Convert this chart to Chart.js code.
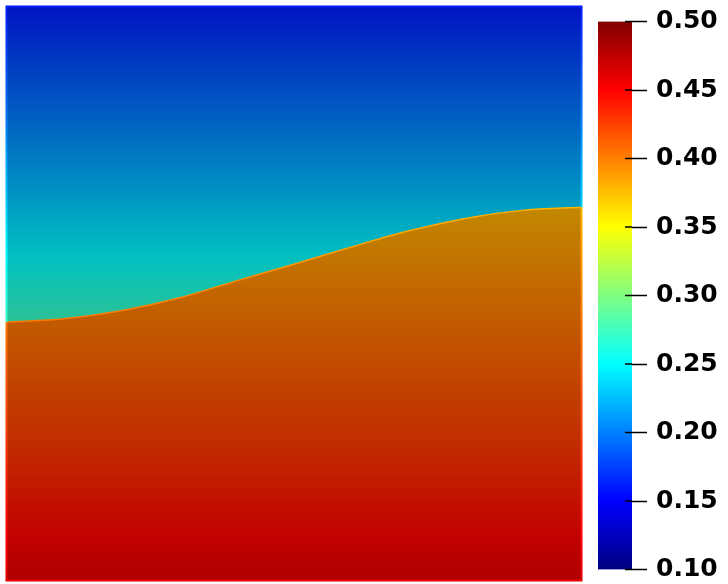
<!DOCTYPE html>
<html>
<head>
<meta charset="utf-8">
<script src="https://cdn.jsdelivr.net/npm/chart.js@4.4.1/dist/chart.umd.min.js"></script>
<style>
  body { margin: 0; background: #fff; }
  canvas { position: absolute; left: 0; top: 0; }
</style>
</head>
<body>
<canvas id="campo" width="728" height="584"></canvas>
<canvas id="barra" width="728" height="584"></canvas>
<script>
// interface between the two phases (domain 0..1 in x and y)
const interfaceX = [0, 0.1, 0.2, 0.3, 0.4, 0.5, 0.6, 0.7, 0.8, 0.9, 1.0];
const interfaceY = [0.450, 0.456, 0.470, 0.492, 0.522, 0.551, 0.581, 0.609, 0.631, 0.645, 0.650];

// field value read at some heights, upper phase and lower phase
const heights = [1.0, 0.75, 0.5, 0.25, 0.0];
const upperValues = [0.160, 0.210, 0.263, 0.313, 0.363];
const lowerValues = [0.340, 0.368, 0.398, 0.426, 0.460];

// colour map (jet) and colour bar ticks
const cmapValues = [0.10, 0.15, 0.20, 0.25, 0.30, 0.35, 0.40, 0.45, 0.50];
const cmapColors = ['#000080', '#0000ff', '#0080ff', '#00ffff', '#80ff80', '#ffff00', '#ff8000', '#ff0000', '#800000'];
const tickMin = 0.10, tickMax = 0.50, tickStep = 0.05;

const shade = 0.76;

function hexRgb(h) {
  return [parseInt(h.slice(1, 3), 16), parseInt(h.slice(3, 5), 16), parseInt(h.slice(5, 7), 16)];
}
function jet(v, k) {
  k = k || 1;
  if (v <= cmapValues[0]) v = cmapValues[0];
  if (v >= cmapValues[cmapValues.length - 1]) v = cmapValues[cmapValues.length - 1];
  let i = 0;
  while (i < cmapValues.length - 2 && v > cmapValues[i + 1]) i++;
  const t = (v - cmapValues[i]) / (cmapValues[i + 1] - cmapValues[i]);
  const a = hexRgb(cmapColors[i]), b = hexRgb(cmapColors[i + 1]);
  const c = a.map((x, j) => Math.round((x + (b[j] - x) * t) * k));
  return 'rgb(' + c[0] + ',' + c[1] + ',' + c[2] + ')';
}
function valueAt(h, vals) {
  for (let i = 0; i < heights.length - 1; i++) {
    if (h <= heights[i] && h >= heights[i + 1]) {
      const t = (heights[i] - h) / (heights[i] - heights[i + 1]);
      return vals[i] + (vals[i + 1] - vals[i]) * t;
    }
  }
  return vals[vals.length - 1];
}
// vertical gradient over the whole domain
function fieldGradient(chart, vals, k) {
  const y = chart.scales.y;
  const top = y.getPixelForValue(1), bot = y.getPixelForValue(0);
  const g = chart.ctx.createLinearGradient(0, top, 0, bot);
  const n = 40;
  for (let s = 0; s <= n; s++) {
    g.addColorStop(s / n, jet(valueAt(1 - s / n, vals), k));
  }
  return g;
}

const pontos = interfaceX.map((x, i) => ({ x: x, y: interfaceY[i] }));

// bright outline of the domain
const contorno = {
  id: 'contorno',
  afterDatasetsDraw(chart) {
    const ctx = chart.ctx, a = chart.chartArea;
    const pts = chart.getDatasetMeta(0).data;
    function regiao(up) {
      ctx.beginPath();
      ctx.moveTo(pts[0].x, pts[0].y);
      for (let i = 1; i < pts.length; i++) ctx.lineTo(pts[i].x, pts[i].y);
      const yy = up ? a.top - 2 : a.bottom + 2;
      ctx.lineTo(a.right + 2, pts[pts.length - 1].y);
      ctx.lineTo(a.right + 2, yy);
      ctx.lineTo(a.left - 2, yy);
      ctx.lineTo(a.left - 2, pts[0].y);
      ctx.closePath();
    }
    [[true, upperValues], [false, lowerValues]].forEach(([up, vals]) => {
      ctx.save();
      regiao(up);
      ctx.clip();
      ctx.strokeStyle = fieldGradient(chart, vals, 1);
      ctx.lineWidth = 2;
      ctx.strokeRect(a.left + 0.5, a.top + 0.5, a.right - a.left - 1, a.bottom - a.top - 1);
      ctx.restore();
    });
  }
};

new Chart(document.getElementById('campo'), {
  type: 'line',
  data: {
    datasets: [{
      data: pontos,
      fill: 'start',
      backgroundColor: c => c.chart.chartArea ? fieldGradient(c.chart, lowerValues, shade) : '#c00',
      borderColor: c => c.chart.chartArea ? fieldGradient(c.chart, lowerValues, 1) : '#f80',
      borderWidth: 1.5,
      pointRadius: 0,
      cubicInterpolationMode: 'monotone'
    }, {
      data: pontos,
      fill: 'end',
      backgroundColor: c => c.chart.chartArea ? fieldGradient(c.chart, upperValues, shade) : '#06c',
      borderWidth: 0,
      pointRadius: 0,
      cubicInterpolationMode: 'monotone'
    }]
  },
  options: {
    responsive: false,
    animation: false,
    layout: { padding: { left: 6, top: 6, right: 146, bottom: 3 } },
    plugins: { legend: { display: false }, tooltip: { enabled: false } },
    scales: {
      x: { type: 'linear', min: 0, max: 1, display: false },
      y: { type: 'linear', min: 0, max: 1, display: false }
    }
  },
  plugins: [contorno]
});

// colour bar
const ticksInternos = {
  id: 'ticksInternos',
  afterDraw(chart) {
    const ctx = chart.ctx, s = chart.scales.y, a = chart.chartArea;
    ctx.save();
    ctx.strokeStyle = '#000';
    ctx.lineWidth = 1.5;
    s.ticks.forEach(t => {
      const py = s.getPixelForValue(t.value);
      ctx.beginPath();
      ctx.moveTo(a.right - 7, py);
      ctx.lineTo(a.right, py);
      ctx.stroke();
    });
    ctx.restore();
  }
};

new Chart(document.getElementById('barra'), {
  type: 'bar',
  data: {
    labels: ['valor'],
    datasets: [{
      data: [[tickMin, tickMax]],
      barPercentage: 1,
      categoryPercentage: 1,
      backgroundColor: c => {
        const ch = c.chart;
        if (!ch.chartArea) return '#888';
        const s = ch.scales.y;
        const g = ch.ctx.createLinearGradient(0, s.getPixelForValue(tickMin), 0, s.getPixelForValue(tickMax));
        cmapValues.forEach((v, i) => g.addColorStop((v - tickMin) / (tickMax - tickMin), cmapColors[i]));
        return g;
      }
    }]
  },
  options: {
    responsive: false,
    animation: false,
    layout: { padding: { left: 598, top: 21.5, bottom: 14.5, right: 0 } },
    plugins: { legend: { display: false }, tooltip: { enabled: false } },
    scales: {
      x: { display: false },
      y: {
        position: 'right',
        min: tickMin,
        max: tickMax,
        afterFit: s => { s.width = 96; s.paddingTop = 0; s.paddingBottom = 0; },
        border: { display: false },
        grid: { drawOnChartArea: false, tickLength: 15, tickWidth: 1.5, tickColor: '#000' },
        ticks: {
          stepSize: tickStep,
          padding: 9,
          color: '#000',
          font: { family: 'DejaVu Sans', weight: 'bold', size: 25 },
          callback: v => v.toFixed(2)
        }
      }
    }
  },
  plugins: [ticksInternos]
});
</script>
</body>
</html>
